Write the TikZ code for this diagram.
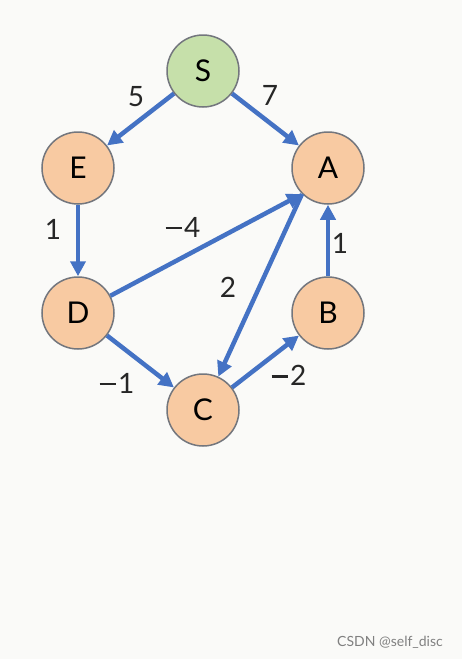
\documentclass[tikz,border=0pt]{standalone}
\usepackage{fontspec}
\setmainfont{Lato}
\usetikzlibrary{arrows.meta}
\definecolor{bgc}{RGB}{250,250,248}
\definecolor{peach}{RGB}{248,202,162}
\definecolor{sgreen}{RGB}{198,224,170}
\definecolor{rim}{RGB}{115,118,125}
\definecolor{edgeblue}{RGB}{68,114,196}
\newcommand{\mymin}{\rule[0.27em]{0.6em}{0.075em}\kern0.06em}
\tikzset{
  vert/.style={circle, draw=rim, line width=1.5pt, fill=peach, minimum size=72pt, inner sep=0pt, font=\fontsize{30}{30}\selectfont},
  startv/.style={vert, fill=sgreen},
  edge/.style={draw=edgeblue, line width=4.5pt, -{Triangle[length=15pt,width=15pt]}},
  wlab/.style={font=\fontsize{28}{28}\selectfont, text=black!85}
}
\begin{document}
\begin{tikzpicture}[x=1pt,y=-1pt]
\fill[bgc] (0,0) rectangle (462,659);
\useasboundingbox (0,0) rectangle (462,659);
\node[startv] (S) at (203,71) {S};
\node[vert] (E) at (78,168) {E};
\node[vert] (A) at (328,168) {A};
\node[vert] (D) at (78,313) {D};
\node[vert] (B) at (328,313) {B};
\node[vert] (C) at (203,410) {C};
\draw[edge] (S) -- (E);
\draw[edge] (S) -- (A);
\draw[edge] (E) -- (D);
\draw[edge] (D) -- (A.225);
\draw[edge] (A.225) -- (C);
\draw[edge] (D) -- (C);
\draw[edge] (C) -- (B);
\draw[edge] (B) -- (A);
\node[wlab] (w5) at (136,97) {5};
\node[wlab] (w7) at (270,95) {7};
\node[wlab] (w1a) at (53,229) {1};
\node[wlab] (w4) at (183,227) {\mymin 4};
\node[wlab] (w2) at (228,287) {2};
\node[wlab] (w1b) at (340,243) {1};
\node[wlab] (wm1) at (117,383) {\mymin 1};
\node[wlab] (wm2) at (289,375) {\mymin 2};
\node[font=\fontsize{14}{14}\selectfont, text=black!50] (wm) at (390,642) {CSDN @self\_disc};
\end{tikzpicture}
\end{document}
